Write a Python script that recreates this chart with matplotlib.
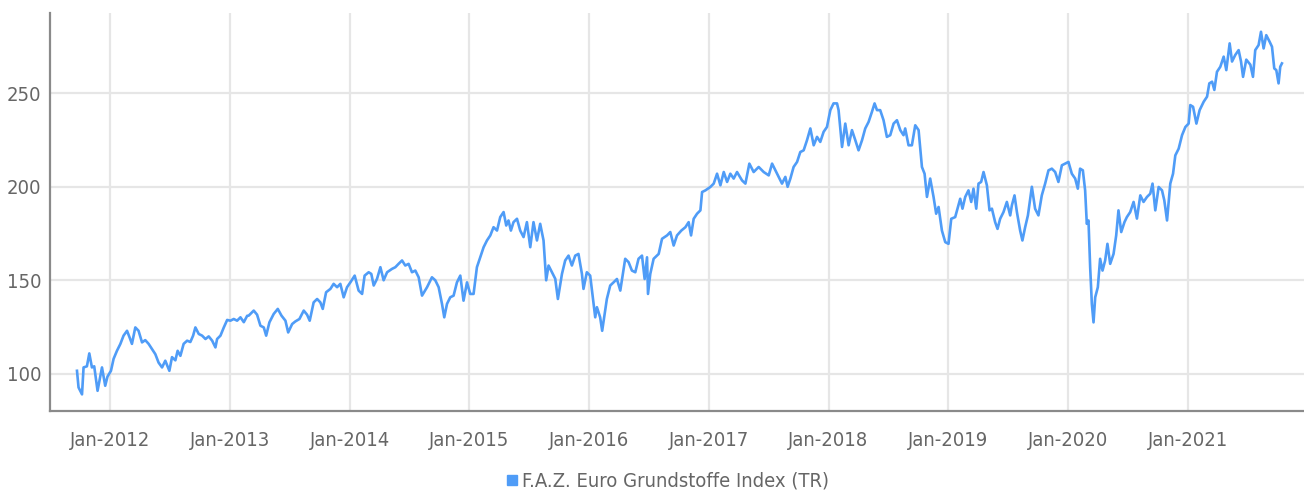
import pandas as pd
import matplotlib
matplotlib.use("Agg")
import matplotlib.pyplot as plt
import matplotlib.dates as mdates
from matplotlib.lines import Line2D

# F.A.Z. Euro Grundstoffe Index (TR), time as decimal year
t = [
    2011.722, 2011.735, 2011.764, 2011.777, 2011.805, 2011.825, 2011.847, 2011.866,
    2011.894, 2011.931, 2011.958, 2011.977, 2012.006, 2012.028, 2012.056, 2012.084,
    2012.111, 2012.140, 2012.161, 2012.181, 2012.209, 2012.236, 2012.265, 2012.292,
    2012.320, 2012.348, 2012.376, 2012.403, 2012.432, 2012.459, 2012.493, 2012.515,
    2012.543, 2012.562, 2012.585, 2012.612, 2012.641, 2012.668, 2012.691, 2012.710,
    2012.738, 2012.766, 2012.794, 2012.821, 2012.850, 2012.877, 2012.891, 2012.919,
    2012.947, 2012.975, 2013.002, 2013.030, 2013.058, 2013.086, 2013.114, 2013.142,
    2013.155, 2013.197, 2013.225, 2013.253, 2013.281, 2013.301, 2013.328, 2013.364,
    2013.398, 2013.429, 2013.462, 2013.485, 2013.518, 2013.545, 2013.579, 2013.615,
    2013.643, 2013.665, 2013.698, 2013.727, 2013.754, 2013.774, 2013.802, 2013.838,
    2013.865, 2013.894, 2013.921, 2013.949, 2013.977, 2014.005, 2014.041, 2014.074,
    2014.103, 2014.124, 2014.158, 2014.180, 2014.200, 2014.228, 2014.256, 2014.283,
    2014.312, 2014.353, 2014.381, 2014.408, 2014.437, 2014.464, 2014.492, 2014.520,
    2014.548, 2014.576, 2014.604, 2014.646, 2014.687, 2014.715, 2014.743, 2014.771,
    2014.790, 2014.813, 2014.840, 2014.868, 2014.896, 2014.924, 2014.951, 2014.980,
    2015.007, 2015.035, 2015.063, 2015.091, 2015.119, 2015.147, 2015.175, 2015.202,
    2015.231, 2015.258, 2015.286, 2015.308, 2015.327, 2015.347, 2015.369, 2015.398,
    2015.425, 2015.453, 2015.481, 2015.509, 2015.536, 2015.565, 2015.592, 2015.620,
    2015.642, 2015.662, 2015.690, 2015.718, 2015.740, 2015.774, 2015.801, 2015.829,
    2015.857, 2015.885, 2015.912, 2015.941, 2015.954, 2015.982, 2016.010, 2016.032,
    2016.052, 2016.066, 2016.093, 2016.110, 2016.149, 2016.177, 2016.205, 2016.233,
    2016.261, 2016.302, 2016.330, 2016.358, 2016.386, 2016.413, 2016.442, 2016.464,
    2016.484, 2016.492, 2016.511, 2016.539, 2016.581, 2016.609, 2016.651, 2016.678,
    2016.706, 2016.734, 2016.770, 2016.804, 2016.831, 2016.851, 2016.873, 2016.901,
    2016.929, 2016.943, 2016.971, 2017.012, 2017.040, 2017.068, 2017.096, 2017.124,
    2017.152, 2017.179, 2017.207, 2017.235, 2017.277, 2017.305, 2017.338, 2017.374,
    2017.416, 2017.458, 2017.500, 2017.528, 2017.570, 2017.611, 2017.639, 2017.658,
    2017.681, 2017.708, 2017.737, 2017.764, 2017.792, 2017.820, 2017.848, 2017.876,
    2017.904, 2017.931, 2017.959, 2017.987, 2018.015, 2018.042, 2018.071, 2018.084,
    2018.113, 2018.140, 2018.168, 2018.196, 2018.224, 2018.251, 2018.280, 2018.307,
    2018.335, 2018.363, 2018.385, 2018.405, 2018.432, 2018.460, 2018.488, 2018.516,
    2018.544, 2018.572, 2018.600, 2018.627, 2018.641, 2018.669, 2018.697, 2018.725,
    2018.753, 2018.781, 2018.803, 2018.823, 2018.850, 2018.878, 2018.900, 2018.920,
    2018.948, 2018.976, 2019.003, 2019.026, 2019.059, 2019.082, 2019.101, 2019.120,
    2019.143, 2019.170, 2019.193, 2019.212, 2019.235, 2019.254, 2019.276, 2019.296,
    2019.324, 2019.346, 2019.366, 2019.393, 2019.413, 2019.435, 2019.463, 2019.491,
    2019.519, 2019.533, 2019.555, 2019.575, 2019.602, 2019.621, 2019.644, 2019.667,
    2019.700, 2019.727, 2019.755, 2019.783, 2019.811, 2019.839, 2019.867, 2019.895,
    2019.922, 2019.951, 2019.978, 2020.006, 2020.034, 2020.062, 2020.084, 2020.103,
    2020.126, 2020.145, 2020.159, 2020.173, 2020.187, 2020.201, 2020.215, 2020.229,
    2020.251, 2020.270, 2020.290, 2020.312, 2020.331, 2020.354, 2020.382, 2020.404,
    2020.423, 2020.446, 2020.473, 2020.493, 2020.521, 2020.549, 2020.577, 2020.605,
    2020.632, 2020.661, 2020.688, 2020.707, 2020.730, 2020.758, 2020.786, 2020.805,
    2020.828, 2020.855, 2020.878, 2020.897, 2020.925, 2020.953, 2020.981, 2021.008,
    2021.022, 2021.045, 2021.073, 2021.100, 2021.134, 2021.162, 2021.181, 2021.204,
    2021.223, 2021.245, 2021.273, 2021.301, 2021.323, 2021.351, 2021.371, 2021.398,
    2021.426, 2021.446, 2021.463, 2021.490, 2021.524, 2021.546, 2021.565, 2021.593,
    2021.613, 2021.635, 2021.657, 2021.685, 2021.705, 2021.724, 2021.741, 2021.760,
    2021.774, 2021.788,
]

index = [
    101.6, 92.7, 89.0, 103.4, 104.0, 110.9, 103.4, 104.0,
    90.9, 103.4, 93.6, 98.5, 101.6, 108.0, 112.3, 115.9,
    120.4, 123.0, 119.5, 116.0, 124.8, 123.0, 116.8, 118.0,
    116.0, 113.2, 110.5, 106.0, 103.4, 107.0, 101.6, 108.9,
    107.2, 112.3, 109.6, 116.0, 117.7, 117.0, 120.4, 124.8,
    121.3, 120.4, 118.6, 120.0, 117.7, 114.1, 118.6, 120.4,
    124.8, 128.8, 128.4, 129.3, 128.4, 130.2, 127.6, 131.0,
    131.1, 133.8, 131.6, 125.7, 124.8, 120.4, 127.5, 132.0,
    134.7, 131.1, 128.4, 122.1, 126.6, 128.0, 129.3, 133.8,
    131.6, 128.4, 138.2, 140.0, 138.2, 134.7, 143.6, 145.4,
    148.1, 146.3, 148.1, 140.9, 146.3, 148.9, 152.5, 144.5,
    142.7, 152.5, 154.3, 153.4, 147.2, 150.8, 157.0, 150.0,
    154.3, 156.1, 157.0, 158.8, 160.6, 157.9, 158.8, 154.3,
    155.2, 151.6, 141.8, 146.3, 151.6, 150.0, 146.3, 137.4,
    130.2, 137.4, 140.9, 141.8, 148.9, 152.5, 139.1, 148.9,
    142.7, 142.7, 157.0, 162.3, 167.7, 171.3, 174.0, 178.4,
    176.6, 183.8, 186.5, 179.3, 182.0, 176.6, 181.1, 182.9,
    176.6, 173.1, 181.1, 167.7, 181.1, 171.3, 180.2, 171.3,
    150.0, 157.9, 154.3, 150.8, 140.0, 153.4, 160.6, 163.2,
    157.9, 163.2, 164.1, 153.4, 145.4, 154.3, 152.5, 140.9,
    130.2, 135.6, 130.2, 123.0, 140.0, 147.2, 148.9, 150.7,
    144.5, 161.5, 159.7, 155.2, 154.3, 161.5, 163.2, 150.7,
    162.3, 142.7, 153.4, 161.5, 164.1, 172.2, 174.0, 175.8,
    168.6, 174.0, 176.6, 178.4, 181.1, 174.0, 182.9, 185.6,
    187.4, 197.2, 198.1, 199.9, 201.7, 207.0, 200.8, 207.9,
    202.6, 207.0, 204.4, 207.9, 203.4, 201.7, 212.4, 207.9,
    210.6, 207.9, 206.1, 212.4, 207.0, 201.7, 205.3, 200.0,
    204.4, 210.6, 213.3, 218.6, 219.5, 224.9, 231.2, 222.2,
    226.7, 224.0, 229.4, 232.0, 241.0, 244.6, 244.6, 241.0,
    221.3, 233.8, 222.2, 230.3, 224.9, 219.5, 224.9, 231.2,
    234.7, 240.1, 244.6, 241.0, 241.0, 235.6, 226.7, 227.6,
    233.8, 235.6, 230.3, 227.6, 231.2, 222.2, 222.2, 232.9,
    230.3, 210.6, 207.0, 194.6, 204.4, 194.6, 185.6, 189.2,
    176.6, 170.4, 169.5, 182.9, 183.8, 189.2, 193.6, 188.3,
    194.6, 198.1, 191.9, 199.0, 188.3, 201.7, 202.6, 207.9,
    200.8, 187.4, 188.3, 181.1, 177.5, 182.9, 186.5, 191.9,
    184.7, 190.1, 195.4, 186.5, 176.6, 171.3, 178.4, 184.7,
    200.0, 188.3, 184.7, 195.4, 201.7, 208.8, 209.7, 207.9,
    202.6, 211.5, 212.4, 213.3, 207.0, 204.4, 199.0, 209.7,
    208.8, 198.1, 180.2, 182.0, 157.0, 137.4, 127.5, 140.9,
    146.3, 161.5, 155.2, 160.6, 169.5, 158.8, 164.1, 174.0,
    187.4, 175.8, 181.1, 183.8, 186.5, 191.9, 183.0, 195.4,
    191.9, 194.6, 196.3, 201.7, 187.4, 199.9, 198.1, 192.8,
    182.0, 201.7, 207.0, 216.8, 220.4, 227.6, 232.0, 233.8,
    243.7, 242.8, 233.8, 241.0, 245.5, 248.2, 255.3, 256.2,
    251.8, 261.5, 264.2, 269.6, 262.4, 276.7, 267.0, 270.5,
    273.1, 267.0, 258.8, 268.0, 265.3, 258.8, 273.1, 275.8,
    282.9, 274.0, 281.1, 277.6, 274.9, 263.3, 262.4, 255.3,
    264.2, 266.0,
]

series_name = "F.A.Z. Euro Grundstoffe Index (TR)"
y_ticks = [100, 150, 200, 250]

line_color = "#4f9cf7"
grid_color = "#e6e6e6"
text_color = "#666666"


def to_date(y):
    year = int(y)
    start = pd.Timestamp(year, 1, 1)
    end = pd.Timestamp(year + 1, 1, 1)
    return start + (end - start) * (y - year)


dates = [to_date(y) for y in t]

plt.rcParams["font.family"] = ["DejaVu Sans"]
plt.rcParams["font.stretch"] = "condensed"

fig = plt.figure(figsize=(13.04, 4.96), dpi=100)
ax = fig.add_axes([0.0383, 0.171, 0.9617, 0.803])

ax.plot(dates, index, color=line_color, lw=1.9, solid_joinstyle="round")

ax.set_xlim(pd.Timestamp(2011, 7, 1), pd.Timestamp(2021, 12, 22))
ax.set_ylim(80, 293)
ax.set_yticks(y_ticks)
ax.xaxis.set_major_locator(mdates.YearLocator())
ax.xaxis.set_major_formatter(mdates.DateFormatter("%b-%Y"))

ax.grid(True, color=grid_color, lw=1.6)
ax.set_axisbelow(True)
for side in ["top", "right"]:
    ax.spines[side].set_visible(False)
for side in ["left", "bottom"]:
    ax.spines[side].set_color("#8a8a8a")
    ax.spines[side].set_linewidth(1.6)

ax.tick_params(axis="both", length=0, labelsize=14.5, labelcolor=text_color)
ax.tick_params(axis="x", pad=14)
ax.tick_params(axis="y", pad=6)

handle = Line2D([], [], ls="none", marker="s", markersize=6.5, color=line_color)
fig.legend([handle], [series_name], loc="center", bbox_to_anchor=(0.51, 0.03),
           frameon=False, fontsize=14.5, labelcolor=text_color,
           handletextpad=0.0, handlelength=1.0)

fig.savefig("out.png", dpi=100)
